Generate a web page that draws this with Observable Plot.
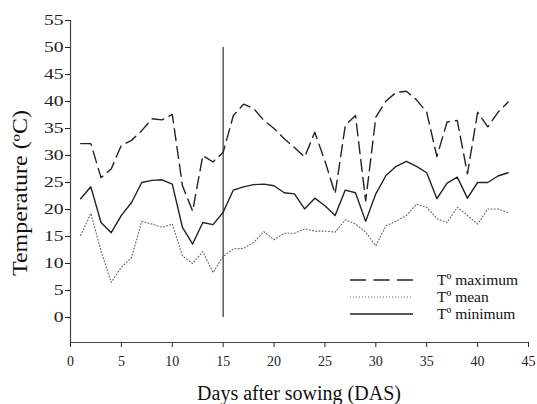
<!DOCTYPE html>
<html><head><meta charset="utf-8">
<script src="https://cdn.jsdelivr.net/npm/d3@7"></script>
<script src="https://cdn.jsdelivr.net/npm/@observablehq/plot@0.6"></script>
<style>body{margin:0;background:#fff} svg{display:block}</style>
</head><body><div id="chart"></div>
<script>
const days = [1,2,3,4,5,6,7,8,9,10,11,12,13,14,15,16,17,18,19,20,21,22,23,24,25,26,27,28,29,30,31,32,33,34,35,36,37,38,39,40,41,42,43];
const tMax = [32.2,32.2,25.9,27.5,31.9,32.8,34.6,36.8,36.6,37.6, 24.4,19.7,30.0,28.8,30.6,37.4,39.5,38.7,36.5,35.0, 33.1,31.5,29.7,34.3,29.0,22.9,35.6,37.4,21.6,37.1, 40.1,41.7,41.9,40.3,38.0,29.8,36.2,36.5,26.6,38.0, 35.3,38.0,39.9];
const tMean = [15.2,19.3,12.3,6.5,9.3,11.1,17.8,17.3,16.7,17.3, 11.4,10.0,12.2,8.3,11.3,12.7,12.8,13.9,15.9,14.4, 15.6,15.6,16.4,16.0,16.0,15.8,18.1,17.3,15.8,13.3, 17.0,17.8,18.9,21.0,20.4,18.3,17.6,20.4,18.9,17.3, 20.1,20.1,19.4];
const tMin = [22.0,24.2,17.6,15.7,18.9,21.3,25.0,25.4,25.5,24.7, 16.7,13.6,17.6,17.2,19.5,23.6,24.2,24.6,24.7,24.4, 23.1,22.9,20.1,22.1,20.7,18.9,23.6,23.1,17.8,22.9, 26.3,28.0,28.9,28.0,26.8,22.0,24.9,26.0,22.1,25.0, 25.0,26.2,26.8];
const xTicks = [0,5,10,15,20,25,30,35,40,45];
const yTicks = [0,5,10,15,20,25,30,35,40,45,50,55];
const seriesNames = ["T\u00BA maximum","T\u00BA mean","T\u00BA minimum"];
const xLabel = "Days after sowing (DAS)";
const yLabel = "Temperature (\u00BAC)";
const markerDay = 15;
const markerRange = [0,50];

const yMin = -4.63;
const font = "'Liberation Serif', 'Times New Roman', serif";

const plot = Plot.plot({
  width: 537, height: 404,
  marginLeft: 70, marginRight: 9, marginTop: 20, marginBottom: 62,
  style: {fontFamily: font, background: "#fff", color: "#222"},
  x: {domain: [0,45]},
  y: {domain: [yMin,55]},
  marks: [
    Plot.axisY({ticks: yTicks, tickSize: 5, tickPadding: 2, fontSize: 14, label: null}),
    Plot.axisX({ticks: xTicks, tickSize: 5, tickPadding: 9, fontSize: 14, label: null}),
    Plot.ruleX([0], {y1: yMin, y2: 55, stroke: "#444", strokeWidth: 1.2}),
    Plot.ruleY([yMin], {stroke: "#444", strokeWidth: 1.2}),
    Plot.ruleX([markerDay], {y1: markerRange[0], y2: markerRange[1], stroke: "#333", strokeWidth: 1.2}),
    Plot.line(days, {x: d => d, y: (d,i) => tMean[i], stroke: "#666", strokeWidth: 1.1, strokeDasharray: "1,2.2"}),
    Plot.line(days, {x: d => d, y: (d,i) => tMin[i], stroke: "#222", strokeWidth: 1.4}),
    Plot.line(days, {x: d => d, y: (d,i) => tMax[i], stroke: "#222", strokeWidth: 1.4, strokeDasharray: "12,6"})
  ]
});
document.getElementById("chart").append(plot);
const svg = d3.select(plot);

// stretch y tick labels horizontally as in the reference
svg.selectAll('g[aria-label="y-axis tick label"] text').each(function(){
  const w = this.getComputedTextLength();
  this.setAttribute("textLength", (w*1.4).toFixed(1));
  this.setAttribute("lengthAdjust", "spacingAndGlyphs");
});

// axis titles
svg.append("text").attr("x", 299).attr("y", 400).attr("text-anchor","middle")
  .attr("font-family", font).attr("font-size", 20).attr("fill","#111").text(xLabel);
svg.append("text").attr("transform","translate(27,193) rotate(-90)").attr("text-anchor","middle")
  .attr("font-family", font).attr("font-size", 20).attr("fill","#111")
  .attr("textLength", 166).attr("lengthAdjust","spacingAndGlyphs").text(yLabel);

// legend
const dashes = ["16,7.5","1,2",null];
const lw = [1.4,1.1,1.4];
const lc = ["#222","#666","#222"];
const lg = svg.append("g");
seriesNames.forEach((n,i) => {
  const y = 280 + i*17;
  const l = lg.append("line").attr("x1",350).attr("x2",413).attr("y1",y).attr("y2",y)
    .attr("stroke",lc[i]).attr("stroke-width",lw[i]);
  if (dashes[i]) l.attr("stroke-dasharray",dashes[i]);
  lg.append("text").attr("x",437).attr("y",y+5).attr("text-anchor","start")
    .attr("font-family",font).attr("font-size",15.5).attr("fill","#111").text(n);
});
</script>
</body></html>
